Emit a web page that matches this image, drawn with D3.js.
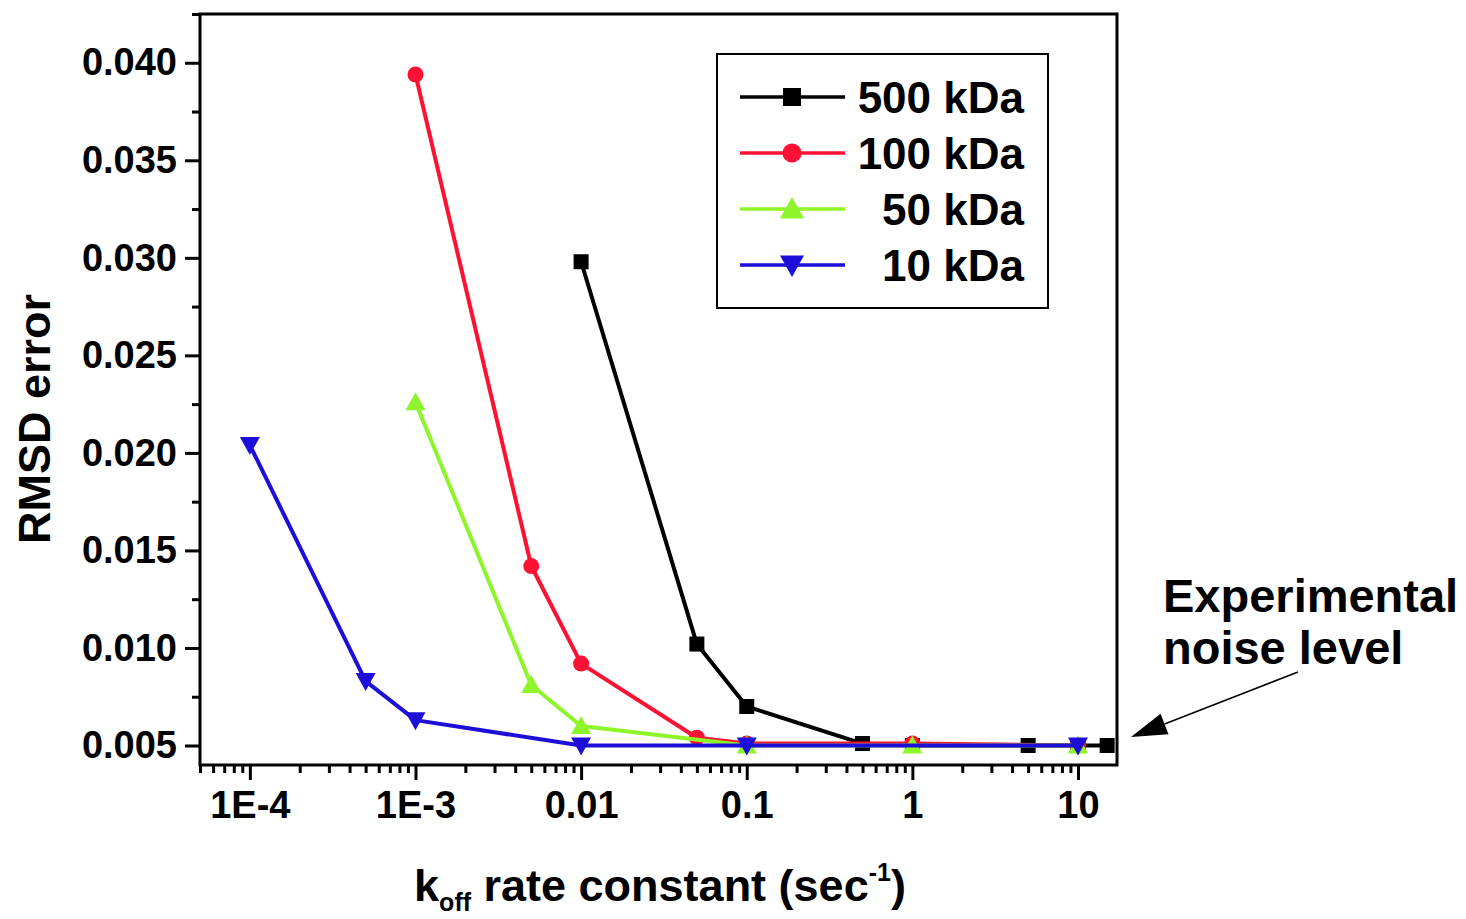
<!DOCTYPE html>
<html>
<head>
<meta charset="utf-8">
<script src="https://cdn.jsdelivr.net/npm/d3@7"></script>
<style>
  html, body { margin: 0; padding: 0; background: #fff; }
  svg { display: block; font-family: "Liberation Sans", Arial, Helvetica, sans-serif; font-weight: bold; }
</style>
</head>
<body>
<svg id="chart" width="1466" height="919"></svg>
<script>
// k_off rate constants (1/s) and RMSD error for each molecular weight
const koff500 = [0.01, 0.05, 0.1, 0.5, 1, 5, 10, 15];
const rmsd500 = [0.0298, 0.0102, 0.0070, 0.0051, 0.0050, 0.0050, 0.0050, 0.0050];

const koff100 = [0.001, 0.005, 0.01, 0.05, 0.1, 1, 10];
const rmsd100 = [0.0394, 0.0142, 0.0092, 0.0054, 0.0051, 0.0051, 0.0050];

const koff50 = [0.001, 0.005, 0.01, 0.1, 1, 10];
const rmsd50 = [0.0226, 0.0081, 0.0060, 0.0050, 0.0050, 0.0050];

const koff10 = [0.0001, 0.0005, 0.001, 0.01, 0.1, 10];
const rmsd10 = [0.0204, 0.0083, 0.0063, 0.0050, 0.0050, 0.0050];

const seriesNames = ["500 kDa", "100 kDa", "50 kDa", "10 kDa"];
const seriesColors = ["#000000", "#ff1133", "#8ef52a", "#1e0fd8"];
const seriesSymbols = ["square", "circle", "triangleUp", "triangleDown"];

const xTickValues = [1e-4, 1e-3, 0.01, 0.1, 1, 10];
const xTickLabels = ["1E-4", "1E-3", "0.01", "0.1", "1", "10"];
const yTickValues = [0.005, 0.010, 0.015, 0.020, 0.025, 0.030, 0.035, 0.040];

const series = [
  { name: seriesNames[0], color: seriesColors[0], symbol: seriesSymbols[0], x: koff500, y: rmsd500 },
  { name: seriesNames[1], color: seriesColors[1], symbol: seriesSymbols[1], x: koff100, y: rmsd100 },
  { name: seriesNames[2], color: seriesColors[2], symbol: seriesSymbols[2], x: koff50, y: rmsd50 },
  { name: seriesNames[3], color: seriesColors[3], symbol: seriesSymbols[3], x: koff10, y: rmsd10 }
];

const svg = d3.select("#chart");
const plot = { left: 200, right: 1117, top: 14, bottom: 765 };

const x = d3.scaleLog().domain([5e-5, 17.2]).range([plot.left, plot.right]);
const y = d3.scaleLinear().domain([0.004, 0.0425]).range([plot.bottom, plot.top]);

// marker drawing; k scales the symbol size
function drawMarker(g, symbol, color, cx, cy, k = 1) {
  if (symbol === "square") {
    const h = 7.5 * k;
    g.append("rect").attr("x", cx - h).attr("y", cy - h).attr("width", 2 * h).attr("height", 2 * h).attr("fill", color);
  } else if (symbol === "circle") {
    g.append("circle").attr("cx", cx).attr("cy", cy).attr("r", 8 * k).attr("fill", color);
  } else if (symbol === "triangleUp") {
    g.append("path").attr("d", `M${cx},${cy - 10 * k}L${cx + 10 * k},${cy + 8 * k}L${cx - 10 * k},${cy + 8 * k}Z`).attr("fill", color);
  } else {
    g.append("path").attr("d", `M${cx},${cy + 10 * k}L${cx + 10 * k},${cy - 8 * k}L${cx - 10 * k},${cy - 8 * k}Z`).attr("fill", color);
  }
}

const tickFont = g => g.selectAll("text").attr("fill", "#000").attr("font-size", 38)
  .attr("font-family", "Liberation Sans, Arial, sans-serif").attr("font-weight", "bold");

// x axis (log, minor ticks 2..9 per decade)
const xMinor = [];
for (let e = -5; e <= 1; e++) {
  for (let m = 2; m <= 9; m++) {
    const v = m * Math.pow(10, e);
    if (v >= 5e-5 && v <= 17.2) xMinor.push(v);
  }
}
svg.append("g")
  .attr("transform", `translate(0,${plot.bottom})`)
  .call(d3.axisBottom(x).tickValues(xMinor).tickSize(8).tickFormat(""))
  .call(g => g.select(".domain").remove())
  .call(g => g.selectAll("line").attr("stroke", "#000").attr("stroke-width", 3));

svg.append("g")
  .attr("transform", `translate(0,${plot.bottom})`)
  .call(d3.axisBottom(x).tickValues(xTickValues).tickSize(15).tickPadding(11)
    .tickFormat((d, i) => xTickLabels[i]))
  .call(g => g.select(".domain").remove())
  .call(g => g.selectAll("line").attr("stroke", "#000").attr("stroke-width", 3))
  .call(tickFont);

// y axis with a minor tick halfway between labels
const yMinor = d3.range(0.0075, 0.0426, 0.005);
svg.append("g")
  .attr("transform", `translate(${plot.left},0)`)
  .call(d3.axisLeft(y).tickValues(yMinor).tickSize(8).tickFormat(""))
  .call(g => g.select(".domain").remove())
  .call(g => g.selectAll("line").attr("stroke", "#000").attr("stroke-width", 3));

svg.append("g")
  .attr("transform", `translate(${plot.left},0)`)
  .call(d3.axisLeft(y).tickValues(yTickValues).tickSize(15).tickPadding(8).tickFormat(d3.format(".3f")))
  .call(g => g.select(".domain").remove())
  .call(g => g.selectAll("line").attr("stroke", "#000").attr("stroke-width", 3))
  .call(tickFont);

// plot frame
svg.append("rect")
  .attr("x", plot.left).attr("y", plot.top)
  .attr("width", plot.right - plot.left).attr("height", plot.bottom - plot.top)
  .attr("fill", "none").attr("stroke", "#000").attr("stroke-width", 3);

// series lines and markers
const line = d3.line().x(d => x(d[0])).y(d => y(d[1]));
series.forEach(s => {
  const pts = s.x.map((v, i) => [v, s.y[i]]);
  const g = svg.append("g");
  g.append("path").attr("d", line(pts)).attr("fill", "none")
    .attr("stroke", s.color).attr("stroke-width", 4).attr("stroke-linejoin", "round");
  pts.forEach(p => drawMarker(g, s.symbol, s.color, x(p[0]), y(p[1])));
});

// legend
const legend = svg.append("g");
legend.append("rect").attr("x", 717).attr("y", 54).attr("width", 331).attr("height", 254)
  .attr("fill", "#fff").attr("stroke", "#000").attr("stroke-width", 2);
series.forEach((s, i) => {
  const ly = 97 + i * 56;
  legend.append("line").attr("x1", 740).attr("x2", 845).attr("y1", ly).attr("y2", ly)
    .attr("stroke", s.color).attr("stroke-width", 3.5);
  drawMarker(legend, s.symbol, s.color, 792, ly, 1.2);
  legend.append("text").attr("x", 1024).attr("y", ly + 16).attr("text-anchor", "end")
    .attr("font-size", 44).attr("fill", "#000").text(s.name);
});

// axis titles
svg.append("text")
  .attr("transform", `translate(50,419) rotate(-90)`)
  .attr("text-anchor", "middle").attr("font-size", 45).attr("fill", "#000")
  .text("RMSD error");

const xt = svg.append("text")
  .attr("x", 660).attr("y", 901).attr("text-anchor", "middle").attr("font-size", 45).attr("fill", "#000");
xt.append("tspan").text("k");
xt.append("tspan").attr("font-size", 25).attr("dy", 10).text("off");
xt.append("tspan").attr("dy", -10).text(" rate constant (sec");
xt.append("tspan").attr("font-size", 25).attr("dy", -20).text("-1");
xt.append("tspan").attr("dy", 20).text(")");

// annotation
const note = svg.append("text").attr("x", 1163).attr("font-size", 47).attr("fill", "#000");
note.append("tspan").attr("x", 1163).attr("y", 612).text("Experimental");
note.append("tspan").attr("x", 1163).attr("y", 664).text("noise level");

const tip = [1131, 737], tail = [1298, 672];
const ang = Math.atan2(tail[1] - tip[1], tail[0] - tip[0]);
const headLen = 36, headHalf = 11;
const bx = tip[0] + headLen * Math.cos(ang), by = tip[1] + headLen * Math.sin(ang);
svg.append("line").attr("x1", tail[0]).attr("y1", tail[1]).attr("x2", bx).attr("y2", by)
  .attr("stroke", "#000").attr("stroke-width", 1.5);
svg.append("path")
  .attr("d", `M${tip[0]},${tip[1]}L${bx + headHalf * Math.sin(ang)},${by - headHalf * Math.cos(ang)}L${bx - headHalf * Math.sin(ang)},${by + headHalf * Math.cos(ang)}Z`)
  .attr("fill", "#000");
</script>
</body>
</html>
